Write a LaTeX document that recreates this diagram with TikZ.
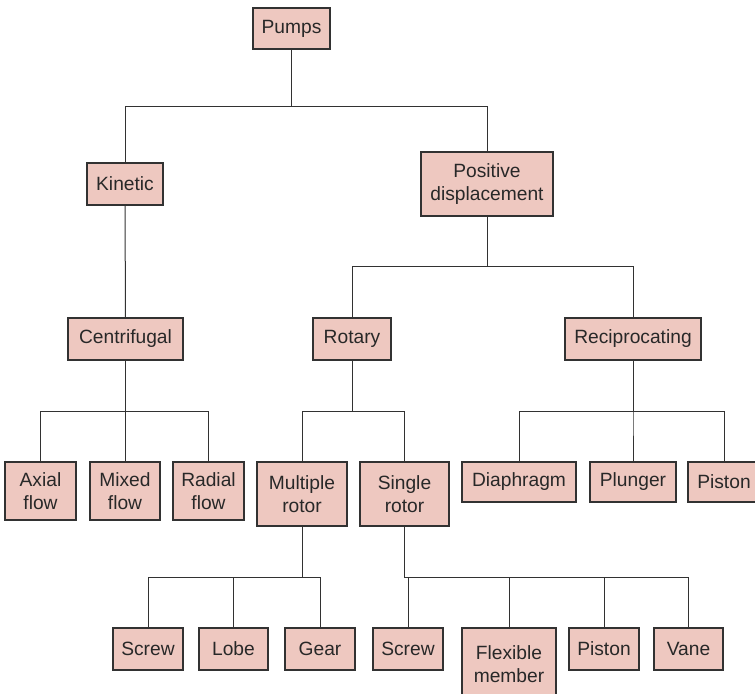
\documentclass[tikz,border=0pt]{standalone}
\usepackage{fontspec}
\setmainfont{Liberation Sans}
\definecolor{boxfill}{RGB}{238,200,192}
\definecolor{boxline}{RGB}{50,50,50}
\definecolor{boxtext}{RGB}{40,40,40}
\tikzset{
  pbox/.style={draw=boxline, line width=0.6pt, fill=boxfill, text=boxtext,
    inner xsep=2pt, inner ysep=1pt, align=center,
    font=\fontsize{9.6}{11.5}\selectfont},
  link/.style={draw=boxline, line width=0.5pt}
}
\begin{document}
\begin{tikzpicture}[x=0.5pt,y=-0.5pt]

\useasboundingbox (0,0) rectangle (755,693);
\clip (0,0) rectangle (755,693);

% bus lines
\coordinate (b1) at (0,106);
\coordinate (b2) at (0,266);
\coordinate (b3) at (0,411);
\coordinate (b4) at (0,577);

% Top
\node[pbox, minimum width=38.5pt, minimum height=20.5pt] (pumps) at (291.5,28.5) {Pumps};

\node[pbox, minimum width=38pt, minimum height=21pt] (kin) at (125,184) {Kinetic};
\node[pbox, minimum width=66pt, minimum height=32pt] (pd) at (487,184) {Positive\\displacement};

% Kinetic
\node[pbox, minimum width=57.5pt, minimum height=21pt] (cen) at (125.5,339) {Centrifugal};

\node[pbox, minimum width=35.5pt, minimum height=29pt] (axial) at (40.5,491) {Axial\\flow};
\node[pbox, minimum width=35pt, minimum height=29pt] (mixed) at (125,491) {Mixed\\flow};
\node[pbox, minimum width=35.5pt, minimum height=29pt] (radial) at (208.5,491) {Radial\\flow};

% Positive displacement
\node[pbox, minimum width=39pt, minimum height=21pt] (rot) at (352,339) {Rotary};
\node[pbox, minimum width=68pt, minimum height=21pt] (rec) at (633,339) {Reciprocating};

\node[pbox, minimum width=45pt, minimum height=32pt] (multi) at (302,494) {Multiple\\rotor};
\node[pbox, minimum width=44.5pt, minimum height=32pt] (single) at (404.5,494) {Single\\rotor};

\node[pbox, minimum width=57pt, minimum height=20pt] (dia) at (519,482) {Diaphragm};
\node[pbox, minimum width=43pt, minimum height=20pt] (plu) at (633,482) {Plunger};
\node[pbox, minimum width=36pt, minimum height=20pt] (pis) at (724,482) {Piston};

% Rotors
\node[pbox, minimum width=35pt, minimum height=21pt] (scr) at (148,649) {Screw};
\node[pbox, minimum width=34.5pt, minimum height=21pt] (lobe) at (233.5,649) {Lobe};
\node[pbox, minimum width=35pt, minimum height=21pt] (gear) at (320,649) {Gear};

\node[pbox, minimum width=35pt, minimum height=21pt] (scrs) at (408,649) {Screw};
\node[pbox, minimum width=47pt, minimum height=36pt] (flex) at (509,664) {Flexible\\member};
\node[pbox, minimum width=35pt, minimum height=21pt] (pist) at (604,649) {Piston};
\node[pbox, minimum width=34.5pt, minimum height=21pt] (vane) at (688.5,649) {Vane};

% links
\foreach \c in {kin,pd}
  \draw[link] (pumps.south) |- (b1 -| \c.north) -- (\c.north);
\draw[link] (kin.south) -- (cen.north);
\foreach \c in {axial,mixed,radial}
  \draw[link] (cen.south) |- (b3 -| \c.north) -- (\c.north);
\foreach \c in {rot,rec}
  \draw[link] (pd.south) |- (b2 -| \c.north) -- (\c.north);
\foreach \c in {multi,single}
  \draw[link] (rot.south) |- (b3 -| \c.north) -- (\c.north);
\foreach \c in {dia,plu,pis}
  \draw[link] (rec.south) |- (b3 -| \c.north) -- (\c.north);
\foreach \c in {scr,lobe,gear}
  \draw[link] (multi.south) |- (b4 -| \c.north) -- (\c.north);
\foreach \c in {scrs,flex,pist,vane}
  \draw[link] (single.south) |- (b4 -| \c.north) -- (\c.north);

\end{tikzpicture}
\end{document}
